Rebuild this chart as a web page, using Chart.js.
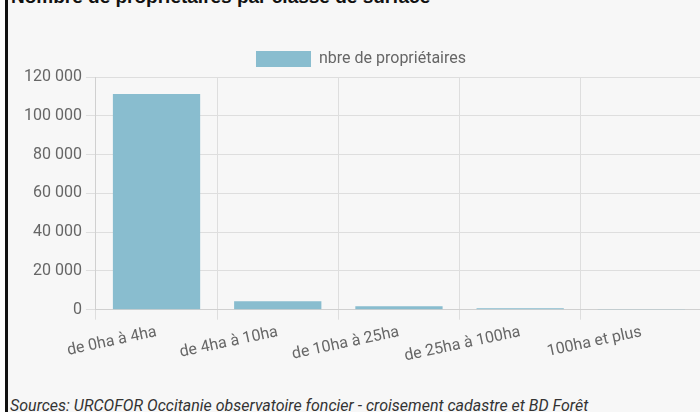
<!DOCTYPE html>
<html>
<head>
<meta charset="utf-8">
<script src="https://cdn.jsdelivr.net/npm/chart.js@4"></script>
<style>
  body { margin: 0; background: #fff; width: 700px; height: 412px; overflow: hidden; position: relative; }
  #panel { position: absolute; left: 5px; top: 0; width: 700px; height: 412px; background: #f7f7f7; border-left: 3px solid #111; }
  #titre { position: absolute; left: 3px; top: -14px; margin: 0; font: bold 19px "Liberation Sans", Arial, sans-serif; color: #111; white-space: nowrap; }
  #source { position: absolute; left: 2px; top: 396px; margin: 0; font: italic 16px Roboto, sans-serif; color: #333; white-space: nowrap; }
  #wrap { position: absolute; left: 0; top: 41px; width: 700px; height: 328px; }
</style>
</head>
<body>
<div id="panel">
  <p id="titre">Nombre de propriétaires par classe de surface</p>
  <div id="wrap"><canvas id="chartProprio"></canvas></div>
  <p id="source">Sources: URCOFOR Occitanie observatoire foncier - croisement cadastre et BD Forêt</p>
</div>
<script>
const classes = ['de 0ha à 4ha', 'de 4ha à 10ha', 'de 10ha à 25ha', 'de 25ha à 100ha', '100ha et plus'];
const nbreProprietaires = [111200, 4300, 1700, 700, 80];
const ticksY = [0, 20000, 40000, 60000, 80000, 100000, 120000];

const ctx = document.getElementById('chartProprio').getContext('2d');
new Chart(ctx, {
  type: 'bar',
  data: {
    labels: classes,
    datasets: [{
      label: 'nbre de propriétaires',
      data: nbreProprietaires,
      backgroundColor: '#89bdcf',
      borderColor: '#89bdcf',
      borderWidth: 0
    }]
  },
  options: {
    responsive: true,
    maintainAspectRatio: false,
    animation: false,
    layout: { padding: { left: 12, right: 6, top: 0, bottom: 0 } },
    scales: {
      x: {
        grid: { color: '#dedede', tickLength: 10 },
        border: { color: '#d0d0d0' },
        ticks: {
          color: '#666',
          font: { family: 'Roboto', size: 16 },
          minRotation: 12,
          maxRotation: 12
        }
      },
      y: {
        min: 0,
        max: 120000,
        afterBuildTicks: axis => { axis.ticks = ticksY.map(v => ({ value: v })); },
        grid: { color: '#dedede', tickLength: 10 },
        border: { color: '#d0d0d0' },
        ticks: {
          color: '#666',
          font: { family: 'Roboto', size: 16 },
          padding: 4,
          callback: function(value) {
            return String(value).replace(/\B(?=(\d{3})+(?!\d))/g, ' ');
          }
        }
      }
    },
    plugins: {
      legend: {
        display: true,
        position: 'top',
        labels: {
          color: '#666',
          boxWidth: 55,
          boxHeight: 16,
          font: { family: 'Roboto', size: 16 }
        }
      },
      tooltip: { enabled: false }
    }
  }
});
</script>
</body>
</html>
